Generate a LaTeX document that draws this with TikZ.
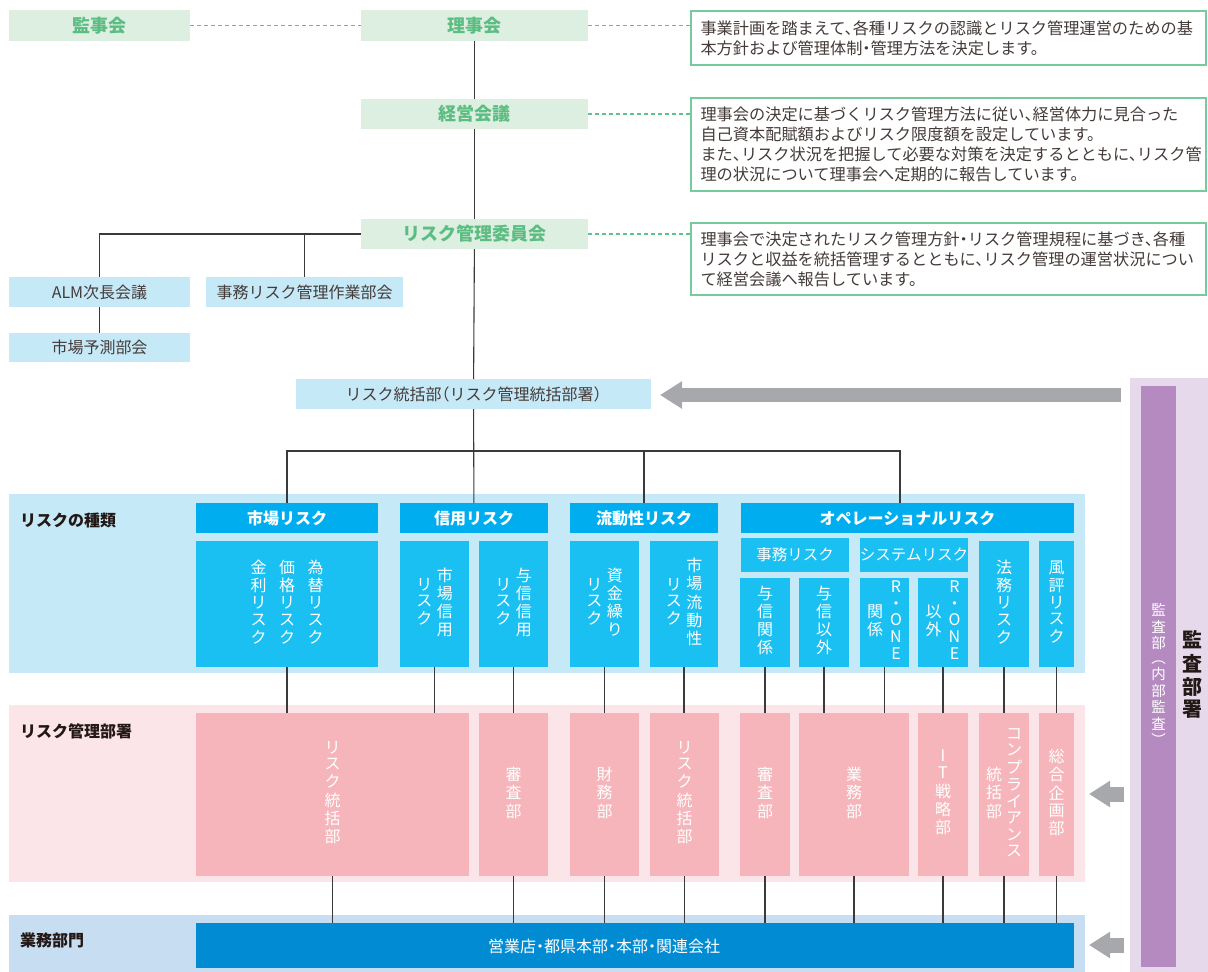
\documentclass[tikz,border=0pt]{standalone}
\usepackage{fontspec}
\setmainfont{Noto Sans CJK JP}[RawFeature=+halt]
\usetikzlibrary{arrows.meta}
\definecolor{gfill}{HTML}{DDEFE1}
\definecolor{gtext}{HTML}{5CBD82}
\definecolor{gline}{HTML}{5EC28A}
\definecolor{lblue}{HTML}{C6E9F8}
\definecolor{hcyan}{HTML}{00AEEF}
\definecolor{scyan}{HTML}{1AC0F1}
\definecolor{pband}{HTML}{FCE5E8}
\definecolor{pbox}{HTML}{F6B5BA}
\definecolor{bband}{HTML}{C7DDF1}
\definecolor{bbox}{HTML}{008BD2}
\definecolor{aband}{HTML}{E6D9EB}
\definecolor{abar}{HTML}{B58AC0}
\definecolor{agray}{HTML}{A6A8AB}
\definecolor{lcol}{HTML}{3A3A3A}
\definecolor{dtext}{HTML}{231815}
\newcommand\BX[7]{\node[#6,minimum width={#4-#2},minimum height={#5-#3}] (#1) at ({(#2+#4)/2},{(#3+#5)/2}) {#7};}
\newcommand\vcol[1]{\begin{tabular}[c]{@{}c@{}}#1\end{tabular}}
\tikzset{
  base/.style={inner sep=0pt,outer sep=0pt,draw=none},
  gbox/.style={base,fill=gfill,text=gtext,font=\fontsize{18}{20}\selectfont\bfseries},
  bbx/.style={base,fill=lblue,text=dtext!85,font=\fontsize{16}{18}\selectfont},
  desc/.style={base,draw=gline!85,line width=1.2pt,fill=white,text=dtext!85,align=left,text width=496pt,font=\fontsize{16.2}{20}\selectfont},
  band/.style={base},
  hdr/.style={base,fill=hcyan,text=white,font=\fontsize{16}{18}\selectfont\bfseries},
  sub/.style={base,fill=scyan,text=white,font=\fontsize{16}{16.5}\selectfont},
  shd/.style={base,fill=scyan,text=white,font=\fontsize{15.5}{18}\selectfont},
  mgt/.style={base,fill=pbox,text=white,font=\fontsize{16}{16.5}\selectfont},
  lab/.style={base,text=dtext,font=\fontsize{16}{18}\selectfont\bfseries,anchor=west},
  con/.style={draw=lcol,line width=1.1pt},
  gdash/.style={draw=gline,line width=1.2pt,dash pattern=on 4pt off 3pt},
  garrow/.style={draw=agray,-{Triangle[length=22pt,width=26pt]}},
}
\begin{document}
\begin{tikzpicture}[x=1pt,y=-1pt]
\useasboundingbox (0,0) rectangle (1208,972);
% ---------- top ----------
\BX{kanji}{9}{10}{190}{41}{gbox}{監事会}
\BX{riji}{361}{10}{588}{41}{gbox}{理事会}
\BX{keiei}{361}{99}{588}{129}{gbox}{経営会議}
\BX{iinkai}{361}{219}{588}{249}{gbox}{リスク管理委員会}
\BX{d1}{691}{11}{1206}{65}{desc}{事業計画を踏まえて、各種リスクの認識とリスク管理運営のための基\\本方針および管理体制・管理方法を決定します。}
\BX{d2}{691}{98}{1206}{191}{desc}{理事会の決定に基づくリスク管理方法に従い、経営体力に見合った\\自己資本配賦額およびリスク限度額を設定しています。\\また、リスク状況を把握して必要な対策を決定するとともに、リスク管\\理の状況について理事会へ定期的に報告しています。}
\BX{d3}{691}{223}{1206}{295}{desc}{理事会で決定されたリスク管理方針・リスク管理規程に基づき、各種\\リスクと収益を統括管理するとともに、リスク管理の運営状況につい\\て経営会議へ報告しています。}
\draw[gdash] (kanji) -- (riji);
\draw[gdash] (riji) -- (d1.west |- riji);
\draw[gdash] (keiei) -- (d2.west |- keiei);
\draw[gdash] (iinkai) -- (d3.west |- iinkai);
\BX{alm}{9}{277}{190}{307}{bbx}{ALM次長会議}
\BX{jimu}{206}{277}{403}{307}{bbx}{事務リスク管理作業部会}
\BX{yosoku}{9}{333}{190}{362}{bbx}{市場予測部会}
\BX{rtb}{296}{379}{651}{409}{bbx}{リスク統括部（リスク管理統括部署）}
\draw[con] (riji) -- (keiei);
\draw[con] (keiei) -- (iinkai);
\draw[con] (iinkai) -- (rtb);
\draw[con] (iinkai.west) -| (alm.north);
\draw[con] (jimu.north) -- (jimu.north |- iinkai.west);
\draw[con] (alm) -- (yosoku);
% ---------- bands ----------
\BX{bandR}{9}{494}{1085}{673}{band,fill=lblue}{}
\BX{bandM}{9}{705}{1085}{882}{band,fill=pband}{}
\BX{bandB}{9}{915}{1085}{972}{band,fill=bband}{}
\BX{bandA}{1130}{378}{1208}{972}{band,fill=aband}{}
\node[lab] (labR) at (20,520) {リスクの種類};
\node[lab] (labM) at (20,731) {リスク管理部署};
\node[lab] (labB) at (20,940) {業務部門};
% ---------- risk types ----------
\BX{hMkt}{196}{503}{378}{533}{hdr}{市場リスク}
\BX{hCrd}{400}{503}{548}{533}{hdr}{信用リスク}
\BX{hLiq}{570}{503}{718}{533}{hdr}{流動性リスク}
\BX{hOpe}{741}{503}{1074}{533}{hdr}{オペレーショナルリスク}
\BX{sMkt}{196}{541}{378}{667}{sub}{\vcol{金\\利\\リ\\ス\\ク}\hspace{12.5pt}\vcol{価\\格\\リ\\ス\\ク}\hspace{12.5pt}\vcol{為\\替\\リ\\ス\\ク}}
\BX{sCr1}{400}{541}{469}{667}{sub}{\vcol{リ\\ス\\ク}\hspace{4.5pt}\vcol{市\\場\\信\\用}}
\BX{sCr2}{479}{541}{548}{667}{sub}{\vcol{リ\\ス\\ク}\hspace{4.5pt}\vcol{与\\信\\信\\用}}
\BX{sLq1}{570}{541}{639}{667}{sub}{\vcol{リ\\ス\\ク}\hspace{4.5pt}\vcol{資\\金\\繰\\り}}
\BX{sLq2}{650}{541}{718}{667}{sub}{\vcol{リ\\ス\\ク}\hspace{4.5pt}\vcol{市\\場\\流\\動\\性}}
\BX{hJim}{741}{538}{849}{572}{shd}{事務リスク}
\BX{hSys}{860}{538}{968}{572}{shd}{システムリスク}
\BX{sJ1}{740}{578}{790}{667}{sub}{\vcol{与\\信\\関\\係}}
\BX{sJ2}{799}{578}{849}{667}{sub}{\vcol{与\\信\\以\\外}}
\BX{sS1}{860}{578}{909}{667}{sub}{\vcol{関\\係}\hspace{7pt}\vcol{R\\・\\O\\N\\E}}
\BX{sS2}{918}{578}{968}{667}{sub}{\vcol{以\\外}\hspace{7pt}\vcol{R\\・\\O\\N\\E}}
\BX{sLaw}{979}{541}{1029}{667}{sub}{\vcol{法\\務\\リ\\ス\\ク}}
\BX{sRep}{1039}{541}{1074}{667}{sub}{\vcol{風\\評\\リ\\ス\\ク}}
% connectors from risk dept
\coordinate (jn) at (474,451);
\draw[con] (rtb) -- (hCrd);
\draw[con] (hMkt.north) |- (jn);
\draw[con] (jn) -| (hLiq.north);
\coordinate (opeTop) at (900,503);
\draw[con] (jn) -| (opeTop);
% ---------- management ----------
\BX{mRisk}{196}{713}{469}{876}{mgt}{\vcol{リ\\ス\\ク\\統\\括\\部}}
\BX{mShin}{479}{713}{548}{876}{mgt}{\vcol{審\\査\\部}}
\BX{mZai}{570}{713}{639}{876}{mgt}{\vcol{財\\務\\部}}
\BX{mRisk2}{650}{713}{719}{876}{mgt}{\vcol{リ\\ス\\ク\\統\\括\\部}}
\BX{mShin2}{740}{713}{790}{876}{mgt}{\vcol{審\\査\\部}}
\BX{mGyo}{799}{713}{909}{876}{mgt}{\vcol{業\\務\\部}}
\BX{mIT}{918}{713}{968}{876}{mgt}{\vcol{I\\T\\戦\\略\\部}}
\BX{mComp}{979}{713}{1029}{876}{mgt,font=\fontsize{16}{15.8}\selectfont}{\vcol{統\\括\\部}\hspace{4pt}\vcol{コ\\ン\\プ\\ラ\\イ\\ア\\ン\\ス}}
\BX{mSogo}{1039}{713}{1074}{876}{mgt}{\vcol{総\\合\\企\\画\\部}}
% risk -> management
\draw[con] (sMkt.south) -- (sMkt.south |- mRisk.north);
\draw[con] (sCr1.south) -- (sCr1.south |- mRisk.north);
\draw[con] (sCr2) -- (mShin);
\draw[con] (sLq1.south) -- (sLq1.south |- mZai.north);
\draw[con] (sLq2.south) -- (sLq2.south |- mRisk2.north);
\draw[con] (sJ1) -- (mShin2);
\draw[con] (sJ2.south) -- (sJ2.south |- mGyo.north);
\draw[con] (sS1.south) -- (sS1.south |- mGyo.north);
\draw[con] (sS2) -- (mIT);
\draw[con] (sLaw.south) -- (sLaw.south |- mComp.north);
\draw[con] (sRep.south) -- (sRep.south |- mSogo.north);
% ---------- business ----------
\BX{biz}{196}{923}{1074}{968}{base,fill=bbox}{}
\node[base,text=white,font=\fontsize{16}{18}\selectfont] (bizt) at (604,946) {営業店・都県本部・本部・関連会社};
\foreach \m in {mRisk,mShin,mZai,mRisk2,mShin2,mGyo,mIT,mComp,mSogo}{
  \draw[con] (\m.south) -- (\m.south |- biz.north);
}
% ---------- audit ----------
\BX{abarN}{1141}{386}{1176}{967}{base,fill=abar}{}
\node[base,text=white,font=\fontsize{14.5}{14.5}\selectfont] (abarT) at (1158.5,677) {\vcol{監\\査\\部\\︵\\内\\部\\監\\査\\︶}};
\node[base,text=dtext,font=\fontsize{20}{20.5}\selectfont\bfseries] (auditT) at (1192,677) {\vcol{監\\査\\部\\署}};
\coordinate (a1s) at (1121,395);
\coordinate (a1e) at (660,395);
\draw[garrow,line width=14pt] (a1s) -- (a1e);
\coordinate (a2s) at (1124,794);
\coordinate (a2e) at (1089,794);
\draw[garrow,line width=15pt,-{Triangle[length=21pt,width=25pt]}] (a2s) -- (a2e);
\coordinate (a3s) at (1124,945);
\coordinate (a3e) at (1089,945);
\draw[garrow,line width=15pt,-{Triangle[length=21pt,width=25pt]}] (a3s) -- (a3e);
\end{tikzpicture}
\end{document}
